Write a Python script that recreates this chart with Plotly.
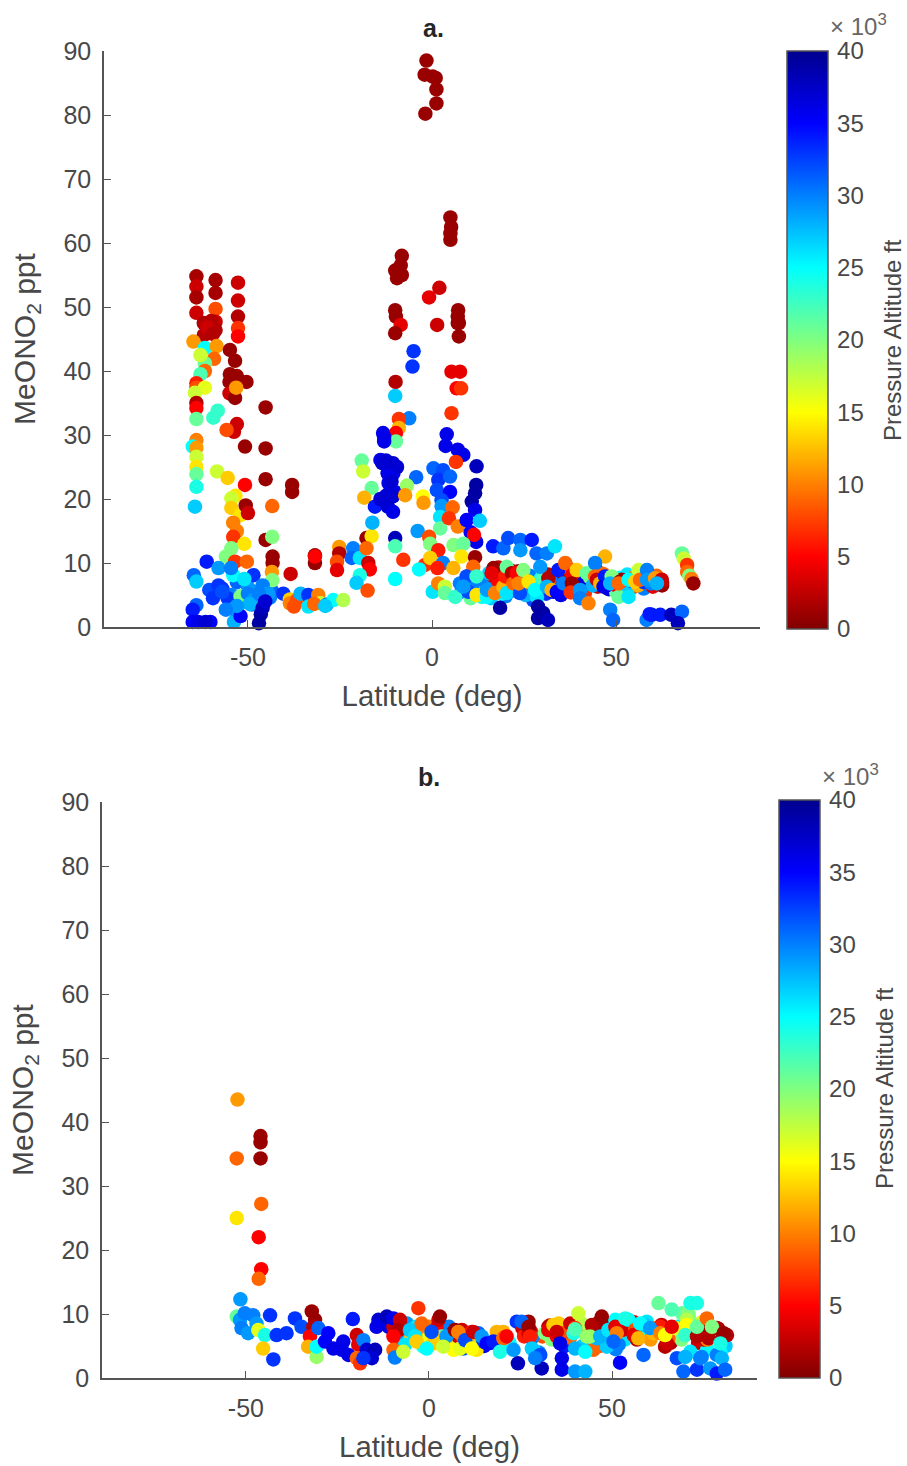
import plotly.graph_objects as go

FIG_W, FIG_H = 907, 1466

under_lat_a = [
 8,9,10.5,11.5,12.5,13.5,15,16,16.5,17.5,18.5,19,20,21,22,22.5,23.5,24.5,25,26,27,27.5,28.5,29,30,31,32,33,
 34,35,36.5,37.5,38.5,39.5,40.5,41.5,42.5,43.5,45,46,47,48,49,50,51,52,53,54.5,55.5,56.5,57.5,58,59,60,61,62.5,
 10,11,13,14,15.5,17,18,18,19,20.5,21.5,22.5,23,24,25,25.5,26.5,27.5,28.5,29.5,30.5,31.5,32.7,33,34,35,36,37,38.5,39.5,
 41,41.5,43,43.7,44.5,45.5,46.5,47.5,48,49.5,50,51.5,52,53,54,55,56,57,57.5,58.5,59.5,60,61.5,62.5,
 -57,-56,-54.5,-53,-51,-50,-49,-47.5,-46,-44.5,-43.5,-48.5,-44,
 -12,-10.5,-11.5,-9.8,-9.5,
]
under_val_a = [
 5.5,7,4.5,7,5.5,4.7,6.5,4.5,8,6,7.8,6.5,4.8,6,8,6.2,8.7,6,7.5,5.2,7,4.2,7.8,5.8,6.7,5.2,7.4,6.2,
 7.5,5,6.5,8,5.6,7,7.8,5.8,7,8,6.3,8,6.8,5.9,7.8,5.5,7.7,6,8.2,6.2,7.2,8.7,6,8.8,7.2,6.3,8,6.5,
 8,6,7.5,5.2,8.4,8.5,9.3,7,5.2,7.5,8.8,5.7,7.8,6.8,8.5,5,8,6.3,4.7,7.5,6.5,8.2,7,5.5,8.3,6,7.6,9.2,7,8.3,
 6.8,5.2,7.7,6.5,9,7,8.3,6.5,7.2,7.5,6.5,7.4,6.8,5.5,7.2,7.8,6.5,8,7,8.5,6.8,7.7,7.3,7,
 6,5.2,5,7,4,6.2,3.5,5,4,6.5,5.7,5.5,4.6,
 24,24,21,21,25,
]
under_alt_a = [
 30,31,21,14,12,24,29,27,3,10,2,12,30,10,3,8,1,14,11,14,21,32,22,12,2,33,3,11,
 36,36,28,1,5,30,9,33,20,31,3,11,33,37,25,21,25,1,26,8,1,17,30,31,30,4,9,1,
 3,30,30,20,27,2,2,5,25,4,2,32,7,12,2,28,30,7,26,24,14,2,7,37,30,33,1,9,33,27,
 36,7,20,28,2,5,9,36,37,21,5,1,9,27,30,10,12,5,33,28,30,7,25,2,
 33,33,30,31,30,29,30,30,30,29,31,29,30,
 37,36,37,36,37,
]

lat_a = [
 -64,-64,-64,-64,-58.8,-58.8,-58.8,-58.8,-58.8,-62,
 -62,-52.7,-52.7,-52.7,-52.7,-52.7,-60.5,-60,-61,-59.5,
 -64.8,-61.7,-58.5,-59.2,-61.7,-62.9,-61.7,-62.9,
 -54.9,-53.5,-54.9,-53,-55,-50.4,-55,-53.5,-53.2,
 -64,-64,-61.7,-64.4,-64,-64,-64,-58.2,-59.4,-45.2,
 -53,-53.8,-55.8,-50.8,-45.2,
 -64,-65,-64,-64,-64,-64,-64,-64.4,
 -58.4,-55.5,-50.8,-45.2,-38,-38,
 -53.4,-54.5,-54.5,-52,-50.6,-50,-43.4,-54,-53,-54,-51,-54.5,-56,-45.2,-43.4,
 -53.5,-50.3,-43.3,-43.3,-43.5,-43.4,-38.4,
 -61.2,-64.7,-64,-58,-54,-54.6,-48.5,-51,
 -60.5,-58,-59.5,-55.5,-57,-64,-65,-65,-63.5,-60.2,-61.5,-53.8,-54,-52,-52,
 -50,-48.5,-46,-44.5,-49.5,-47,-53,-56,
 -47,-46.5,-46,-45.3,
 -40.4,-38.6,-38.6,-36.7,-35.7,-33.6,-33.6,-30.9,-30.3,-28.6,-26.8,-24.1,-37.5,-32,-29,
 -31.8,-31.8,-31.8,-25.2,-25.2,-25.8,-25.8,-21.4,-21.8,-19.6,
 -17.8,-16.4,-17.8,-17.3,-16.9,-19.6,-20.5,-17.5,
 -19.1,-18.7,-16.4,-18.4,-15.5,-16.2,
 -1.5,-2,0.2,1,1.2,1.2,-1.8,
 5,5.2,5,5,-8.2,-8.5,-10,-8.2,-9.5,-0.8,2,7.1,7,7,-10,-9.8,-8.5,-10,1.4,7.3,7.3,
 -5,-5.3,5.3,7.6,6.7,7.9,-9.9,-10,5.3,-6.2,-9,-9,-9.8,-9.8,
 -13.3,-13,-14,-12.5,-11.5,-12,-11.8,-12.5,-12,
 -13,-13.5,-10.6,-11,-10.6,-10.6,-14,-10,-10,-7.8,-10,
 4,3.7,7,8.5,12.1,6.5,
 0.4,3,1.7,4.9,1.3,4.9,2.6,2.6,2.2,2.2,
 -4.3,-6.8,-7.3,-2.5,-2.3,
 5.6,4.6,7,12,11.7,10.8,11.7,9.4,13,10.5,12,11.4,
 -3.9,-0.8,-0.5,1.7,5.8,8.5,8,11.7,11.2,
 -1.9,-0.5,-3.5,3,1.5,5.8,
 0.2,1.7,3.5,3.5,6.3,
 16.6,19.4,20.7,24,24,27.1,28.4,31.2,33.4,47,
 7.6,9.4,9.9,8.5,12.1,12.1,14.9,14.9,17.1,16.7,16.2,19.4,20.3,19.9,20.3,21.7,22.1,23,
 23.9,23.5,24.8,26.2,28,30.3,29.4,31.6,31.2,32.5,33.9,34.3,35.7,36.2,38,38,39.3,37.7,
 40.2,40.2,42.5,42,44.3,44.3,44.8,45.7,47,46.6,48.8,48.4,50.7,51.1,50.7,53.4,53.4,55.2,
 56.1,56.5,58.4,58.4,60.6,62.4,61.1,
 67.9,68.4,69.3,69.3,69.9,70.5,71,
 18.5,28.8,30.2,28.8,31.5,48.4,49.2,58.3,59.1,59.7,62,65,67.9,66.8,
]
alt_a = [
 1.5,3,1.5,3,1.5,1.5,8,3,2,2,
 2,3,3,2,7,5,2,2,3,2,
 11,25,11,9,21,17,9,22,
 1,1,1,1,1,1,3,1,11,
 6,8,16,17,2,5,21,23,23,1,
 3,3,8,1,1,
 10,25,11,17,14,21,24,27,
 17,13,5,1,1,1,
 14,17,13,14,1,3,9,10,10,7,14,20,20,1,20,
 7,9,1,1,11,20,3,
 34,31,27,29,25,30,33,26,
 32,33,33,33,32,31,34,35,36,35,37,28,29,35,20,
 30,29,30,29,28,30,29,30,
 39,39,38,37,
 33,13,10,8,28,33,26,10,17,30,25,18,8,9,27,
 1,1,5,11,2,8,4,30,31,26,
 1,14,9,3,5,24,27,8,
 21,17,21,12,34,28,
 1,1,1,1,1,1,1,
 1,1,1,1,1,1,1,1,1,4,3,1,1,1,1,1,4,1,3,1,1,
 33,33,4,4,5,7,2,27,7,30,7,12,5,21,
 36,36,36,37,37,36,36,37,37,
 36,37,37,37,37,36,37,38,22,7,25,
 36,36,36,36,38,7,
 31,32,33,31,32,35,32,29,26,21,
 31,19,11,15,11,
 9,7,10,39,39,39,36,35,27,35,36,5,
 29,8,20,6,20,21,14,1,9,
 7,13,25,30,6,12,
 26,10,17,21,23,
 34,31,32,31,29,34,31,30,26,12,
 30,32,32,29,23,14,25,29,10,1,4,12,26,6,21,2,9,5,
 32,10,20,14,25,22,29,2,28,12,35,34,30,9,5,1,13,7,
 29,30,10,21,30,9,3,12,34,36,20,28,21,1,9,26,25,13,
 17,9,30,29,11,3,28,
 21,17,7,9,20,10,1,
 39,39,39,39,38,30,31,30,34,34,34,38,31,38,
]
val_a = [
 54.8,53.2,51.5,49.1,54.2,52.2,49.7,47.7,46.4,47.5,
 45.6,53.8,51,48.5,46.7,45.4,46.5,47.8,46.8,45.8,
 44.6,43.6,43.9,41.9,41.2,42.5,40,39.5,
 43.3,41.6,39.5,39.2,38.3,38.3,36.5,35.8,37.4,
 38.1,37.4,37.4,36.6,35,34.2,32.5,33.8,32.7,34.3,
 31.7,30.5,30.8,28.2,27.9,
 29.2,28.2,28,26.6,25,23.9,21.9,18.8,
 24.3,23.3,22.2,23.1,22.2,21.1,
 20.5,20.1,18.6,17.5,19,17.8,18.9,16.3,15,14.1,13,12.3,11,13.6,14.1,
 10.2,10.2,11,10,8.6,7.3,8.3,
 10.2,8.1,7.1,9.2,8.1,9.2,8.1,7.5,
 5.8,6.5,4.5,4.5,5.5,3.4,2.7,0.8,0.8,0.8,0.8,0.8,2.8,1.7,4.8,
 5.2,4.2,6.5,5.2,3.6,5.2,3.3,2.7,
 0.6,2,3,4,
 5.2,4.3,3.7,4.2,5.2,5,3.2,5,3.7,3.5,4.2,4.2,3.2,3.6,3.3,
 11.2,10,11,12.5,11.5,10.2,8.9,12.3,10.8,10.8,
 13.9,14.2,12.3,10,9,8.1,6.9,5.7,
 26,24.3,21.7,20.2,18.8,16.3,
 88.5,86.3,86,85.8,84,81.8,80.2,
 64,62.5,61.5,60.5,58,56.5,55.7,55,54.5,51.5,53,49.5,48.5,47.5,49.5,48.5,47.2,45.9,47.2,47.5,45.4,
 43.1,40.7,39.9,39.9,37.3,37.3,38.3,36.1,33.4,32.6,32.5,31.1,30.3,29,
 30.3,29,26.1,26,25.5,24,22.5,20.5,18.8,
 29.7,25.6,25.6,22.7,20.4,18,20,13.9,12.6,10.5,7.5,
 30.1,28.3,27.7,26.9,25.1,25.8,
 24.8,24.5,23,23.5,21.4,21.1,19.8,18.9,17.2,15.4,
 23.4,22.1,20.6,20.4,19.4,
 18.7,17,15.7,22.2,20.9,19.6,18.3,16.7,16.6,14.8,13.3,14.4,
 15,14.1,13,12,12.8,13,11,10.9,9.4,
 9.7,10.8,9,10,9.2,9.2,
 5.5,6.8,6.3,5.3,4.7,
 12.6,12.3,13.9,13.6,12,13.6,11.5,11.5,12.6,11,
 6.8,7.9,5.5,6.3,7.9,5,4.7,5.8,5.3,9.2,8.4,6.3,5.3,7.9,9.4,8.4,6.8,8.4,
 5.3,6.8,8.9,7.1,5.8,7.6,9.4,7.6,6.3,5.8,5.5,8.9,6.8,10,8.1,6.8,8.9,5.4,
 5.8,4.5,3.7,8.4,10,7.9,7.4,6.8,7.9,6.3,7.9,6.8,4.7,7.1,6.8,4.7,7.4,7.1,
 8.9,7.4,8.9,7.4,7.6,7.4,6.8,
 11.5,10.7,9.7,8.6,8,7.5,6.8,
 3,3.2,2.2,1.4,1.1,2.7,1.1,1.1,2,1.9,1.9,1.9,2.4,0.6,
]

under_lat_b = [
 -11,-8,-8.5,-7,-6,-4.5,-3.5,-2.5,-1,0,0.5,1.5,2.5,4,5,5.5,6.5,7.5,9,10,11,12,12.5,13.5,15,17,18.5,22,24,25.5,
 26.5,26,27.8,30,31,33,33.5,35.5,36,37,38,38.5,41,42,43.5,45,46,46.5,48,49,50,51,52.5,53.5,55,56,58,59.5,60.5,62,
 63.5,66,68,69,71,72,73.5,74.5,76,77.5,79,80,81,
 -9.7,-7.5,-6.1,-5.2,-6.5,-2.4,-1.5,-0.2,2.1,1.2,3.5,5.8,6.7,8,8.9,9.4,10.8,11.7,13,13,14.9,16.2,
 20.3,21,27.2,27.2,28.1,28.5,32.6,31.7,34.5,35.4,34.9,36.7,38.6,39.5,41.7,43.1,44.9,45.8,47.2,45.4,
 48.6,50.9,51.8,52.7,54.5,56.3,56.8,59,61.3,63.2,64.5,65.4,67.3,69.1,70.9,74.1,75,76,78.6,81.4,79.6,71.4,74.5,78.6,
]
under_val_b = [
 8,6.5,5,7,8.5,6,8,5.5,7,8,5.5,7.5,5.5,7.5,6,8,7,5.5,7.5,6.2,5,7,6,7,5,5.5,7.2,5.5,8.8,7.8,
 8.3,6.5,7.3,4,6.5,8.2,6,8.4,6.5,5,8,6.3,7.5,5,7.8,6.8,8.5,5,8.5,6,7.3,4.5,8.8,6,8,8.7,6.5,8.8,6,7.8,
 8.3,5.5,8,6,9.5,7.5,5.5,8.7,4.5,6.5,7.7,6,5,
 8,8,6.5,5.9,5.2,7,4.9,6.2,7.8,5.4,6.5,5.7,4.4,6.5,6.7,4.6,6.5,7.2,5.9,4.4,5.7,5.4,
 7.2,6.5,8.8,7,6.2,4.4,8,7,7.5,8.5,6.5,7,8.5,7,8.5,6.5,4.4,6.2,8.8,8,
 4.9,9.1,5.2,7.5,9.1,7.5,6,8.3,7,8,4.9,6.2,7.8,10.1,10.1,7.5,6,6,7.8,6.7,4.1,4.1,3.3,3.6,
]
under_alt_b = [
 36,3,7,29,29,24,26,17,30,10,20,30,15,10,30,30,1,20,3,12,16,5,30,31,36,34,12,25,33,3,
 1,6,3,30,8,3,20,1,3,34,2,9,28,27,1,24,1,8,27,30,29,30,28,26,2,4,24,26,11,10,
 3,2,26,20,20,2,3,17,25,20,1,1,27,
 3,2,29,13,26,10,24,15,5,13,22,14,15,3,8,32,30,6,13,14,33,35,
 12,9,1,3,30,26,2,20,2,13,5,8,3,24,18,19,9,28,1,1,
 27,25,30,3,25,8,2,27,12,6,2,9,16,21,20,1,3,10,2,2,25,26,30,30,
]

lat_b = [
 -52.3,-52.5,-52.5,-46,-46,-46,-45.8,-46.5,-45.8,-46.5,-51.5,
 -52.5,-51.6,-50.3,-51.2,-49.4,-48,-47.1,-43.4,-46.6,-44.8,-45.3,-42.5,
 -41.6,-38.9,-36.6,-34.8,-32,-31.1,-31.6,-32.5,-33,-30.2,-27.5,-30.7,-30.7,-28.4,-26.1,
 -23.4,-23.8,-22,-20.8,-19.7,-19.3,-19.7,-18.8,-17.9,-17,-14.7,-15.6,-17.9,
 -13.8,-14.3,-11.5,-9.7,-7.9,-8.4,-9.7,-9.7,-9.3,-7,-5.2,-3.8,-2.9,-2,-3.4,-0.6,
 2.6,3,1.7,0.7,4.8,3.9,7.1,8,8.5,9.9,12.1,11.7,14.4,15.8,17.6,20.3,21.2,19.4,23.1,24.3,
 25.3,27.2,27.6,28.1,30.4,30.8,29,32.6,34,34.9,35.8,36.3,36.3,39.9,42.7,40.8,39.9,39.9,
 44.5,47.2,44,39.9,42.7,46.8,49,50.9,51.3,50.4,52.2,53.6,55.9,57.2,57.7,58.6,60.4,
 63.2,65,64.5,66.3,62.7,66.3,71.4,73.2,67.7,70.4,70.4,70,73.2,73.2,75.9,76.4,77.3,
 80.5,79.6,70,69.5,73.2,74.1,76.8,78.6,80,80.9,
]
val_b = [
 43.5,34.3,25,37.8,36.8,34.3,27.2,22,17,15.5,12.3,
 9.6,9.1,10.1,7.8,7,9.8,8.5,9.8,7.5,6.7,4.6,2.9,
 6.7,7,9.3,8,10.4,9.1,8,6.5,4.9,7.8,7,3.3,4.9,5.7,4.6,
 5.7,4.4,3.6,9.2,6.7,5.2,3.1,2.3,5.9,4.4,4.4,3.1,3.1,
 9.1,8,9.6,9.3,9.1,7.5,6.5,4.4,3.2,4.1,7.5,6.5,10.9,8.5,5.7,4.6,
 9.1,9.6,6.5,7.2,6.5,4.9,7.5,7.2,4.6,5.9,7.2,4.6,6.5,5.4,5.7,6.2,6.5,4.1,4.4,2.3,
 8.8,8,6.5,4.6,3.6,1.5,3.1,7.5,8.3,7.2,5.4,3.1,1.3,1,1,10.1,7.8,7.6,
 8.3,9.6,6.5,4.6,4.1,6.5,7.5,8,7,5.7,2.4,9.3,6.7,6.2,8.5,3.6,7.8,
 7,5.4,6.7,8,11.7,10.7,11.7,11.7,3.1,9.1,8.3,6.7,6.5,8,9.3,6.2,8,
 7,5.4,3.3,1,1.3,3.1,1.5,0.7,3.1,1.3,
]
alt_b = [
 11,9,14,1,1,1,9,5,5,9,29,
 21,29,30,30,29,30,29,33,16,24,13,33,
 33,33,33,32,1,1,2,5,12,31,35,19,25,35,36,
 36,36,36,34,3,4,9,7,30,37,38,37,33,
 37,36,38,36,3,2,5,9,30,17,27,26,7,9,13,25,
 3,1,13,32,29,17,1,10,16,32,3,15,29,35,34,9,5,24,29,38,
 31,1,6,27,32,38,30,4,13,3,36,36,36,29,28,17,7,22,
 2,1,19,28,25,28,26,4,10,31,35,24,4,12,25,31,29,
 10,3,15,4,21,22,24,24,32,18,15,23,2,21,9,2,20,
 1,24,28,31,33,30,29,34,28,31,
]

x_ticks = [-50, 0, 50]
x_labels = ["-50", "0", "50"]
y_ticks = list(range(0, 100, 10))
alt_ticks = [0, 5, 10, 15, 20, 25, 30, 35, 40]

JET_REV = [[0, "#800000"], [0.125, "#ff0000"], [0.375, "#ffff00"],
           [0.625, "#00ffff"], [0.875, "#0000ff"], [1, "#00008f"]]
GREY = "#484848"
AXIS = "#555555"
FONT = "Liberation Sans"


def ydom(top, bottom):
    return [1 - bottom / FIG_H, 1 - top / FIG_H]


def cbar(left, top, bottom):
    return dict(
        colorscale=JET_REV, cmin=0, cmax=40,
        colorbar=dict(
            thickness=41, thicknessmode="pixels",
            len=bottom - top, lenmode="pixels",
            x=left / FIG_W, xanchor="left", xpad=0,
            y=1 - bottom / FIG_H, yanchor="bottom", ypad=0,
            tickvals=alt_ticks, ticks="outside", ticklen=4, tickcolor="rgba(0,0,0,0)",
            tickfont=dict(family=FONT, size=24, color=GREY),
            outlinecolor=AXIS, outlinewidth=1.5,
        ),
    )


fig = go.Figure()
fig.add_trace(go.Scatter(x=under_lat_a + lat_a, y=under_val_a + val_a, mode="markers", cliponaxis=False,
                         marker=dict(color=under_alt_a + alt_a, size=14.5, coloraxis="coloraxis", line_width=0),
                         xaxis="x", yaxis="y", showlegend=False))
fig.add_trace(go.Scatter(x=under_lat_b + lat_b, y=under_val_b + val_b, mode="markers", cliponaxis=False,
                         marker=dict(color=under_alt_b + alt_b, size=14.5, coloraxis="coloraxis2", line_width=0),
                         xaxis="x2", yaxis="y2", showlegend=False))

x_common = dict(tickvals=x_ticks, ticktext=x_labels, ticks="inside", ticklen=7, tickcolor=AXIS, tickwidth=1,
                showgrid=False, zeroline=False, showline=True, linecolor=AXIS, linewidth=1.5,
                automargin=False, ticklabelstandoff=7, tickfont=dict(family=FONT, size=25, color=GREY))
y_common = dict(tickvals=y_ticks, ticks="inside", ticklen=7, tickcolor=AXIS, tickwidth=1,
                showgrid=False, zeroline=False, showline=True, linecolor=AXIS, linewidth=1.5,
                automargin=False, ticklabelstandoff=6, range=[0, 90], tickfont=dict(family=FONT, size=25, color=GREY))
ttl_x = dict(family=FONT, size=29.3, color=GREY)
ttl_y = dict(family=FONT, size=30, color=GREY)


def note(text, x, y, size, color, angle=0):
    return dict(text=text, x=x / FIG_W, y=1 - y / FIG_H, xref="paper", yref="paper",
                xanchor="center", yanchor="middle", showarrow=False, textangle=angle,
                font=dict(family=FONT, size=size, color=color))


fig.update_layout(
    width=FIG_W, height=FIG_H, autosize=False, paper_bgcolor="white", plot_bgcolor="white",
    margin=dict(l=0, r=0, t=0, b=0, pad=0, autoexpand=False),
    coloraxis=cbar(787, 51, 629),
    coloraxis2=cbar(779, 800, 1378),
    xaxis=dict(x_common, domain=[104 / FIG_W, 760 / FIG_W], range=[-89.1, 89.1], anchor="y",
               title=dict(text="Latitude (deg)", font=ttl_x, standoff=16)),
    yaxis=dict(y_common, domain=ydom(51, 627), anchor="x",
               title=dict(text="MeONO<sub>2</sub> ppt", font=ttl_y, standoff=19)),
    xaxis2=dict(x_common, domain=[102 / FIG_W, 757 / FIG_W], range=[-89.3, 89.6], anchor="y2",
                title=dict(text="Latitude (deg)", font=ttl_x, standoff=16)),
    yaxis2=dict(y_common, domain=ydom(802, 1378), anchor="x2",
                title=dict(text="MeONO<sub>2</sub> ppt", font=ttl_y, standoff=19)),
    annotations=[
        note("<b>a.</b>", 433, 28, 25, "#262626"),
        note("<b>b.</b>", 429, 777, 25, "#262626"),
        note("× 10<sup>3</sup>", 858, 25, 24, "#666666"),
        note("× 10<sup>3</sup>", 850, 775, 24, "#666666"),
        note("Pressure Altitude ft", 892, 340, 24, GREY, -90),
        note("Pressure Altitude ft", 884, 1088, 24, GREY, -90),
    ],
)

assert len(lat_a) == len(val_a) == len(alt_a), (len(lat_a), len(val_a), len(alt_a))
assert len(lat_b) == len(val_b) == len(alt_b), (len(lat_b), len(val_b), len(alt_b))
assert len(under_lat_a) == len(under_val_a) == len(under_alt_a), (len(under_lat_a), len(under_val_a), len(under_alt_a))
assert len(under_lat_b) == len(under_val_b) == len(under_alt_b), (len(under_lat_b), len(under_val_b), len(under_alt_b))
fig.write_html("out.html", post_script="document.body.style.margin='0';",
               config={"displayModeBar": False})
